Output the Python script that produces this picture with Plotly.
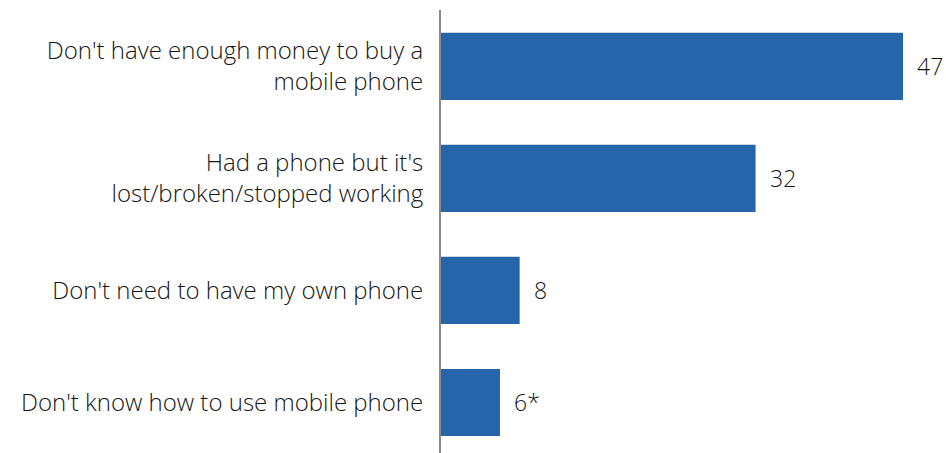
import plotly.graph_objects as go

categories = [
    "Don't have enough money to buy a<br>mobile phone",
    "Had a phone but it's<br>lost/broken/stopped working",
    "Don't need to have my own phone",
    "Don't know how to use mobile phone",
]
values = [47, 32, 8, 6]
value_labels = ["47", "32", "8", "6*"]

BAR_COLOR = "#2765AB"
TEXT_COLOR = "#161616"
FONT = "Open Sans"

fig = go.Figure(
    go.Bar(
        x=values,
        y=categories,
        orientation="h",
        marker=dict(color=BAR_COLOR, line=dict(width=0)),
        hoverinfo="skip",
    )
)

for cat, val, lab in zip(categories, values, value_labels):
    fig.add_annotation(
        x=val, y=cat, text=lab, showarrow=False,
        xanchor="left", yanchor="middle", xshift=12,
        font=dict(family=FONT, size=23, color=TEXT_COLOR, weight=300),
    )

fig.update_layout(
    width=946, height=453,
    margin=dict(l=441, r=0, t=10, b=0),
    paper_bgcolor="white", plot_bgcolor="white",
    bargap=0.4,
    showlegend=False,
    xaxis=dict(range=[0, 51.37], visible=False, fixedrange=True),
    yaxis=dict(
        range=[3.451, -0.504],
        showgrid=False, zeroline=False,
        showline=True, linecolor="#8C8C8C", linewidth=2,
        ticks="", ticklabelstandoff=11,
        tickfont=dict(family=FONT, size=24, color=TEXT_COLOR, weight=300),
        fixedrange=True,
    ),
)

fig.write_html("out.html")
